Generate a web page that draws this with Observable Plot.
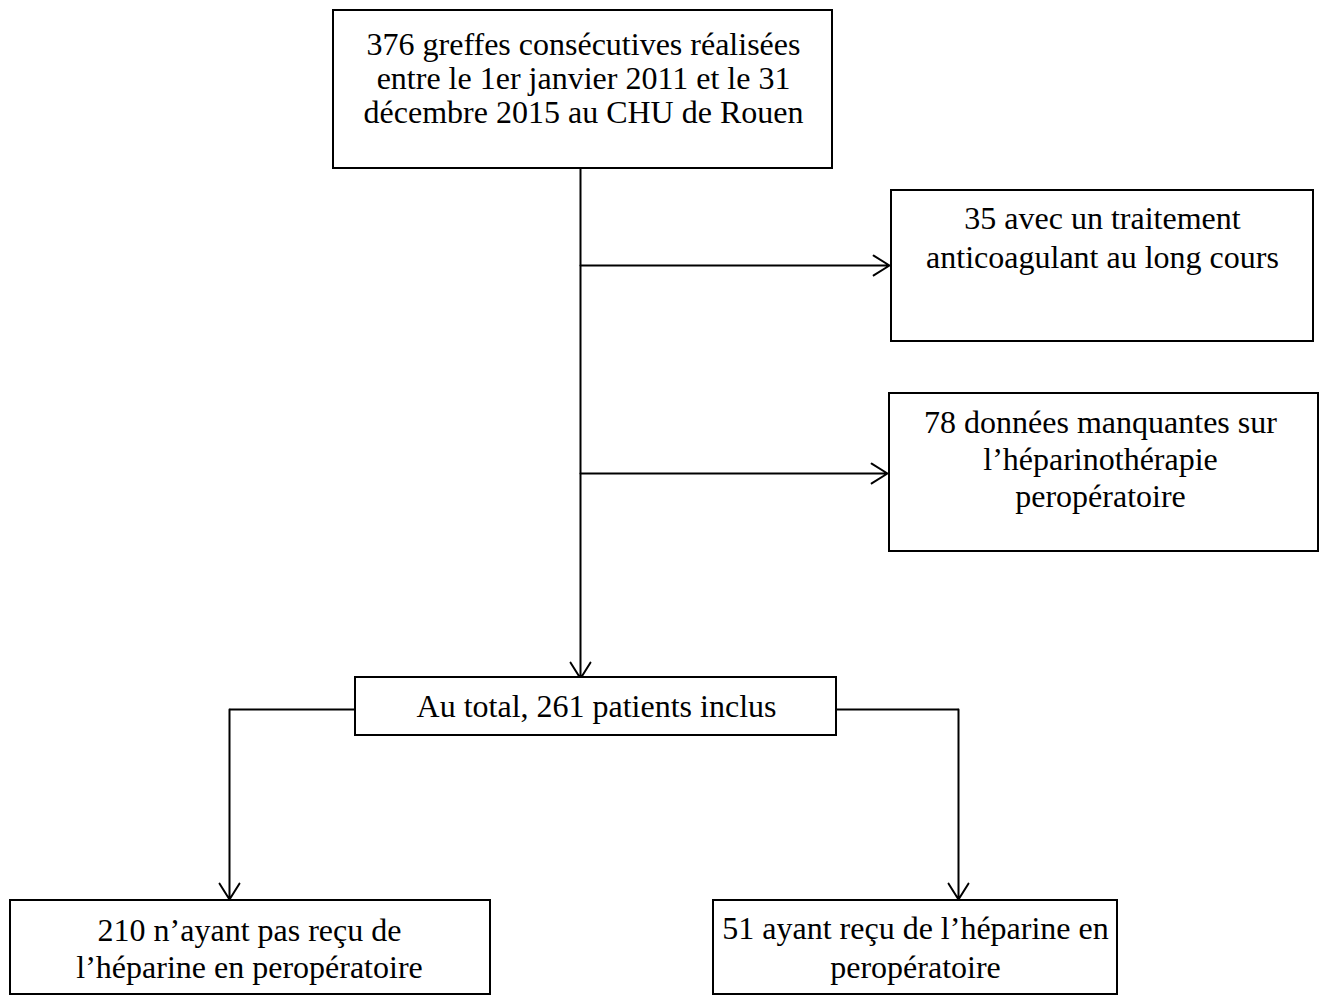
<!DOCTYPE html>
<html><head><meta charset="utf-8">
<script src="https://cdn.jsdelivr.net/npm/d3@7"></script>
<script src="https://cdn.jsdelivr.net/npm/@observablehq/plot@0.6"></script>
<style>html,body{margin:0;padding:0;background:#fff;overflow:hidden}</style>
</head><body><div id="chart"></div>
<script>
// Flow counts and box texts
const counts = [376, 35, 78, 261, 210, 51];
const labels = [
  `${counts[0]} greffes consécutives réalisées\nentre le 1er janvier 2011 et le 31\ndécembre 2015 au CHU de Rouen`,
  `${counts[1]} avec un traitement\nanticoagulant au long cours`,
  `${counts[2]} données manquantes sur\nl’héparinothérapie\nperopératoire`,
  `Au total, ${counts[3]} patients inclus`,
  `${counts[4]} n’ayant pas reçu de\nl’héparine en peropératoire`,
  `${counts[5]} ayant reçu de l’héparine en\nperopératoire`
];

// Layout (pixel geometry of the diagram)
const boxX1 = [333, 891, 889, 355, 10, 713];
const boxX2 = [832, 1313, 1318, 836, 490, 1117];
const boxY1 = [10, 190, 393, 677, 900, 900];
const boxY2 = [168, 341, 551, 735, 994, 994];
const textX = [583, 1102, 1100, 596, 249, 915];
const textBase = [54, 228, 432, 716, 940, 938];
const textGap = [34, 39, 37, 36, 37, 39];

const FS = 32;

const boxes = labels.map((label, i) => ({
  label, x1: boxX1[i], x2: boxX2[i], y1: boxY1[i], y2: boxY2[i]
}));
const lines = labels.flatMap((label, i) =>
  label.split("\n").map((t, j) => ({t, x: textX[i], y: textBase[i] + j * textGap[i]}))
);

const arrows = [
  {x1: 580, y1: 168, x2: 580, y2: 678},
  {x1: 580, y1: 265, x2: 889, y2: 265},
  {x1: 580, y1: 473, x2: 887, y2: 473},
  {x1: 229, y1: 709, x2: 229, y2: 899},
  {x1: 958, y1: 709, x2: 958, y2: 899}
];
const elbows = [
  {x1: 355, y1: 709, x2: 229, y2: 709},
  {x1: 836, y1: 709, x2: 958, y2: 709}
];

const W = 1322, H = 996;
const chart = Plot.plot({
  width: W, height: H, margin: 0,
  x: {domain: [0, W], range: [0, W], axis: null},
  y: {domain: [0, H], range: [0, H], axis: null},
  style: {background: "#fff"},
  marks: [
    Plot.link(elbows, {x1: "x1", y1: "y1", x2: "x2", y2: "y2", stroke: "#000", strokeWidth: 2}),
    Plot.arrow(arrows, {x1: "x1", y1: "y1", x2: "x2", y2: "y2", stroke: "#000", strokeWidth: 2,
      headLength: 14, headAngle: 64, inset: 0}),
    Plot.rect(boxes, {x1: "x1", x2: "x2", y1: "y1", y2: "y2", fill: "#fff", stroke: "#000", strokeWidth: 2}),
    Plot.text(lines, {x: "x", y: "y", text: "t", lineAnchor: "bottom", textAnchor: "middle",
      fontSize: FS, fontFamily: "'Liberation Serif', 'Times New Roman', serif", fill: "#000"})
  ]
});
document.getElementById("chart").appendChild(chart);
</script>
</body></html>
